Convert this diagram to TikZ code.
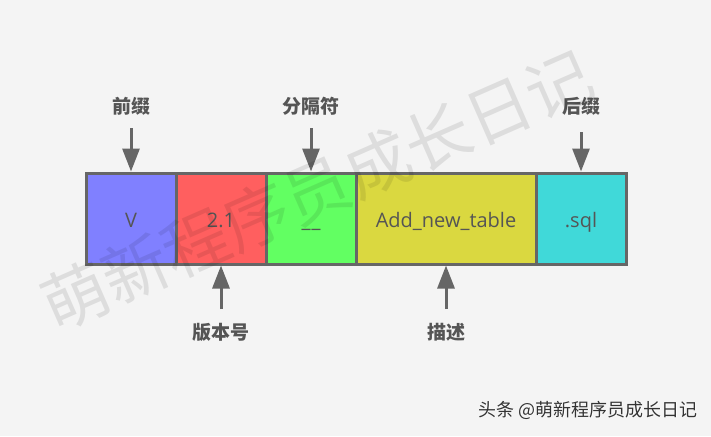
\documentclass[tikz,border=0pt]{standalone}
\usepackage{fontspec}
\setmainfont{Open Sans}
\newfontfamily\cjk{Noto Sans CJK SC}
\usetikzlibrary{arrows.meta}
\definecolor{bg}{HTML}{F4F4F4}
\definecolor{edge}{HTML}{666666}
\definecolor{txt}{HTML}{555555}
\definecolor{cV}{HTML}{8080FF}
\definecolor{cR}{HTML}{FF5F5F}
\definecolor{cG}{HTML}{62FF62}
\definecolor{cY}{HTML}{DAD840}
\definecolor{cC}{HTML}{40D9D9}
\tikzset{
  seg/.style={draw=edge, line width=3pt, minimum height=91pt, minimum width=90pt, inner sep=0pt, text=txt, text height=17pt, text depth=0pt, font=\fontsize{20}{23}\selectfont},
  lbl/.style={text=txt, font=\cjk\bfseries\fontsize{19}{21}\selectfont, inner sep=0pt},
  arr/.style={draw=edge, line width=3pt, -{Triangle[length=23pt,width=17pt]}},
}
\begin{document}
\begin{tikzpicture}[x=1pt,y=1pt]
\fill[bg] (0,0) rectangle (711,-436);
\useasboundingbox (0,0) rectangle (711,-436);
% segments
\node[seg, fill=cV] (v) at (131,-218.5) {V};
\node[seg, fill=cR] (ver) at (221,-218.5) {2.1};
\node[seg, fill=cG] (sep) at (311,-218.5) {\_\kern1pt\_};
\node[seg, fill=cY, minimum width=180pt] (desc) at (446,-218.5) {Add\_new\_table};
\node[seg, fill=cC] (suf) at (581,-218.5) {.sql};
% labels
\node[lbl] (lpre) at (131,-106) {前缀};
\node[lbl] (lsep) at (311,-106) {分隔符};
\node[lbl] (lsuf) at (581,-106) {后缀};
\node[lbl] (lver) at (221,-332) {版本号};
\node[lbl] (ldesc) at (446,-332) {描述};
% arrow tails
\coordinate (tpre) at (131,-128);
\coordinate (tsep) at (311,-128);
\coordinate (tsuf) at (581,-132);
\coordinate (tver) at (221,-309);
\coordinate (tdesc) at (446,-309);
\draw[arr] (tpre) -- (v.north);
\draw[arr] (tsep) -- (sep.north);
\draw[arr] (tsuf) -- (suf.north);
\draw[arr] (tver) -- (ver.south);
\draw[arr] (tdesc) -- (desc.south);
% watermark
\node[rotate=23.7, text=black, text opacity=0.09, font=\cjk\fontsize{66}{70}\selectfont, inner sep=0pt] (wm) at (317,-190) {萌新程序员成长日记};
% credit
\node[anchor=east, text=white, font=\cjk\fontsize{18}{20}\selectfont, inner sep=0pt] (credsh) at (698.8,-410.8) {头条 @萌新程序员成长日记};
\node[anchor=east, text=black!80, font=\cjk\fontsize{18}{20}\selectfont, inner sep=0pt] (cred) at (698,-410) {头条 @萌新程序员成长日记};
\end{tikzpicture}
\end{document}
